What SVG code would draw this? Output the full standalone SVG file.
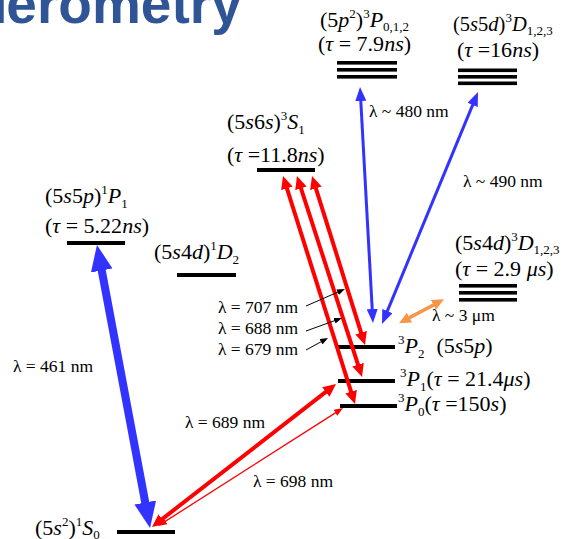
<svg xmlns="http://www.w3.org/2000/svg" width="568" height="539" viewBox="0 0 568 539">
<style>
.t{font-family:"Liberation Serif","DejaVu Serif","Times New Roman",serif;font-size:22px;fill:#000}
.i{font-style:italic}
.sp{font-size:13px}
.l{font-family:"Liberation Serif","DejaVu Serif","Times New Roman",serif;font-size:17.5px;fill:#000}
.bar{fill:#000}
.title{font-family:"Liberation Sans",Arial,sans-serif;font-weight:bold;font-size:55px;fill:#2F5597}
.bl{stroke:#3333ff;fill:none}
.rd{stroke:#ff0000;fill:none}
.or{stroke:#f79646;fill:none}
.bk{stroke:#000;fill:none;stroke-width:1}
</style>
<defs>
<marker id="mBB" markerUnits="userSpaceOnUse" viewBox="0 0 26 22" markerWidth="26" markerHeight="22" refX="16" refY="11" orient="auto-start-reverse"><path d="M0,0 L26,11 L0,22 Z" fill="#3333ff"/></marker>
<marker id="mB" markerUnits="userSpaceOnUse" viewBox="0 0 14 11" markerWidth="14" markerHeight="11" refX="9" refY="5.5" orient="auto-start-reverse"><path d="M0,0 L14,5.5 L0,11 Z" fill="#3333ff"/></marker>
<marker id="mR" markerUnits="userSpaceOnUse" viewBox="0 0 13 12" markerWidth="13" markerHeight="12" refX="7" refY="6" orient="auto-start-reverse"><path d="M0,0 L13,6 L0,12 Z" fill="#ff0000"/></marker>
<marker id="mRt" markerUnits="userSpaceOnUse" viewBox="0 0 9 7" markerWidth="9" markerHeight="7" refX="6" refY="3.5" orient="auto-start-reverse"><path d="M0,0 L9,3.5 L0,7 Z" fill="#ff0000"/></marker>
<marker id="mO" markerUnits="userSpaceOnUse" viewBox="0 0 12 11" markerWidth="12" markerHeight="11" refX="7" refY="5.5" orient="auto-start-reverse"><path d="M0,0 L12,5.5 L0,11 Z" fill="#f79646"/></marker>
<marker id="mK" markerUnits="userSpaceOnUse" viewBox="0 0 8 6" markerWidth="8" markerHeight="6" refX="5" refY="3" orient="auto"><path d="M0,0 L8,3 L0,6 Z" fill="#000"/></marker>
</defs>

<g id="title"><text class="title" x="-9" y="23">f<tspan dx="-3">erometry</tspan></text></g>

<g id="lvl-5p2-3P012">
<rect class="bar" x="337" y="61" width="60" height="3.6"/>
<rect class="bar" x="337" y="68" width="60" height="3.6"/>
<rect class="bar" x="337" y="75" width="60" height="3.6"/>
<text class="t" x="320" y="27">(5<tspan class="i">p</tspan><tspan class="sp" dy="-9">2</tspan><tspan dy="9">)</tspan><tspan class="sp" dy="-9">3</tspan><tspan class="i" dy="9">P</tspan><tspan class="sp" dy="4">0,1,2</tspan></text>
<text class="t" x="318" y="51">(<tspan class="i">τ</tspan> = 7.9<tspan class="i">ns</tspan>)</text>
</g>

<g id="lvl-5s5d-3D123">
<rect class="bar" x="458" y="68.5" width="59" height="3.6"/>
<rect class="bar" x="458" y="75" width="59" height="3.6"/>
<rect class="bar" x="458" y="81.5" width="59" height="3.6"/>
<text class="t" x="453" y="31" style="font-size:20.5px">(5<tspan class="i">s</tspan>5<tspan class="i">d</tspan>)<tspan class="sp" dy="-9">3</tspan><tspan class="i" dy="9">D</tspan><tspan class="sp" dy="4">1,2,3</tspan></text>
<text class="t" x="457" y="57">(<tspan class="i">τ</tspan> =16<tspan class="i">ns</tspan>)</text>
</g>

<g id="lvl-5s6s-3S1">
<rect class="bar" x="257" y="168" width="58" height="4"/>
<text class="t" x="227" y="129">(5<tspan class="i">s</tspan>6<tspan class="i">s</tspan>)<tspan class="sp" dy="-9">3</tspan><tspan class="i" dy="9">S</tspan><tspan class="sp" dy="5">1</tspan></text>
<text class="t" x="227" y="162">(<tspan class="i">τ</tspan> =11.8<tspan class="i">ns</tspan>)</text>
</g>

<g id="lvl-5s5p-1P1">
<rect class="bar" x="67" y="241" width="58" height="4"/>
<text class="t" x="45" y="203">(5<tspan class="i">s</tspan>5<tspan class="i">p</tspan>)<tspan class="sp" dy="-9">1</tspan><tspan class="i" dy="9">P</tspan><tspan class="sp" dy="5">1</tspan></text>
<text class="t" x="45" y="233">(<tspan class="i">τ</tspan> = 5.22<tspan class="i">ns</tspan>)</text>
</g>

<g id="lvl-5s4d-1D2">
<rect class="bar" x="177" y="273" width="59" height="4"/>
<text class="t" x="154" y="259">(5<tspan class="i">s</tspan>4<tspan class="i">d</tspan>)<tspan class="sp" dy="-9">1</tspan><tspan class="i" dy="9">D</tspan><tspan class="sp" dy="5">2</tspan></text>
</g>

<g id="lvl-5s4d-3D123">
<rect class="bar" x="459" y="284" width="58" height="3.6"/>
<rect class="bar" x="459" y="291" width="58" height="3.6"/>
<rect class="bar" x="459" y="298" width="58" height="3.6"/>
<text class="t" x="455" y="250">(5<tspan class="i">s</tspan>4<tspan class="i">d</tspan>)<tspan class="sp" dy="-9">3</tspan><tspan class="i" dy="9">D</tspan><tspan class="sp" dy="4">1,2,3</tspan></text>
<text class="t" x="455" y="276">(<tspan class="i">τ</tspan> = 2.9 <tspan class="i">μs</tspan>)</text>
</g>

<g id="lvl-3P2">
<rect class="bar" x="337" y="345" width="58" height="4"/>
<text class="t" x="398" y="353"><tspan class="sp" dy="-9">3</tspan><tspan class="i" dy="9">P</tspan><tspan class="sp" dy="5">2</tspan><tspan dx="12" dy="-5">(5<tspan class="i">s</tspan>5<tspan class="i">p</tspan>)</tspan></text>
</g>

<g id="lvl-3P1">
<rect class="bar" x="338" y="379" width="57" height="4"/>
<text class="t" x="400" y="386"><tspan class="sp" dy="-9">3</tspan><tspan class="i" dy="9">P</tspan><tspan class="sp" dy="5">1</tspan><tspan dy="-5">(<tspan class="i">τ</tspan> = 21.4<tspan class="i">μs</tspan>)</tspan></text>
</g>

<g id="lvl-3P0">
<rect class="bar" x="340" y="404" width="57" height="4"/>
<text class="t" x="398" y="411"><tspan class="sp" dy="-9">3</tspan><tspan class="i" dy="9">P</tspan><tspan class="sp" dy="5">0</tspan><tspan dy="-5">(<tspan class="i">τ</tspan> =150<tspan class="i">s</tspan>)</tspan></text>
</g>

<g id="lvl-5s2-1S0">
<rect class="bar" x="117" y="530" width="58" height="4"/>
<text class="t" x="35" y="535">(5<tspan class="i">s</tspan><tspan class="sp" dy="-9">2</tspan><tspan dy="9">)</tspan><tspan class="sp" dy="-9">1</tspan><tspan class="i" dy="9">S</tspan><tspan class="sp" dy="4">0</tspan></text>
</g>

<g id="connectors">
<path class="bl" stroke-width="8" d="M98.8,254.8 L148.2,518.2" marker-start="url(#mBB)" marker-end="url(#mBB)"/>
<path class="rd" stroke-width="4" d="M156.7,523.3 L331.3,387.7" marker-start="url(#mR)" marker-end="url(#mR)"/>
<path class="rd" stroke-width="1.3" d="M160.5,524.4 L340.5,409.6" marker-start="url(#mRt)" marker-end="url(#mRt)"/>
<path class="rd" stroke-width="4" d="M313.8,181.7 L363.2,339.3" marker-start="url(#mR)" marker-end="url(#mR)"/>
<path class="rd" stroke-width="4" d="M298.8,181.7 L360.2,371.3" marker-start="url(#mR)" marker-end="url(#mR)"/>
<path class="rd" stroke-width="4" d="M284.8,181.7 L353.2,398.3" marker-start="url(#mR)" marker-end="url(#mR)"/>
<path class="bl" stroke-width="3" d="M360.3,92 L372.7,318" marker-start="url(#mB)" marker-end="url(#mB)"/>
<path class="bl" stroke-width="3" d="M476.1,96.6 L383.9,319.4" marker-start="url(#mB)" marker-end="url(#mB)"/>
<path class="or" stroke-width="3.5" d="M403.4,320.9 L439.6,301.7" marker-start="url(#mO)" marker-end="url(#mO)"/>
<path class="bk" d="M306,306 L342.2,290.2" marker-end="url(#mK)"/>
<path class="bk" d="M306,331 L339.2,319" marker-end="url(#mK)"/>
<path class="bk" d="M306,350 L325.4,339.4" marker-end="url(#mK)"/>
</g>

<g id="labels">
<text class="l" x="13" y="372">λ = 461 nm</text>
<text class="l" x="369" y="117">λ ~ 480 nm</text>
<text class="l" x="463" y="187">λ ~ 490 nm</text>
<text class="l" x="432" y="321">λ ~ 3 μm</text>
<text class="l" x="218" y="313">λ = 707 nm</text>
<text class="l" x="218" y="334">λ = 688 nm</text>
<text class="l" x="218" y="355">λ = 679 nm</text>
<text class="l" x="185" y="428">λ = 689 nm</text>
<text class="l" x="253" y="487">λ = 698 nm</text>
</g>
</svg>
